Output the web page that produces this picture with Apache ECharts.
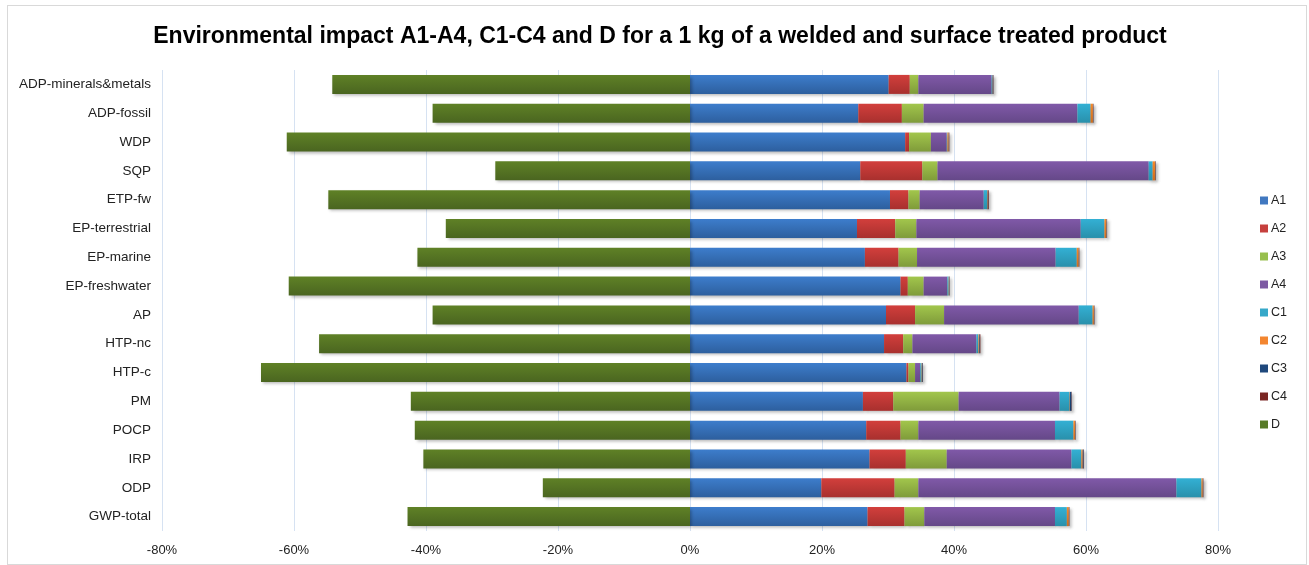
<!DOCTYPE html>
<html>
<head>
<meta charset="utf-8">
<script src="https://cdn.jsdelivr.net/npm/echarts@6/dist/echarts.min.js"></script>
<style>
html,body{margin:0;padding:0;background:#fff;}
#frame{position:absolute;left:7px;top:5px;width:1300px;height:560px;border:1px solid #d9d9d9;box-sizing:border-box;}
#chart{position:absolute;left:0;top:0;width:1309px;height:565px;}
</style>
</head>
<body>
<div id="frame"></div>
<div id="chart"></div>
<script>
const categories = ["ADP-minerals&metals","ADP-fossil","WDP","SQP","ETP-fw","EP-terrestrial","EP-marine","EP-freshwater","AP","HTP-nc","HTP-c","PM","POCP","IRP","ODP","GWP-total"];
const seriesNames = ["A1","A2","A3","A4","C1","C2","C3","C4","D"];
const A1 = [30.1,25.5,32.6,25.8,30.3,25.3,26.5,31.9,29.7,29.4,32.8,26.2,26.7,27.2,19.9,26.9];
const A2 = [3.2,6.6,0.6,9.4,2.8,5.8,5.1,1.1,4.4,2.9,0.3,4.6,5.2,5.5,11.1,5.6];
const A3 = [1.3,3.3,3.3,2.3,1.7,3.2,2.8,2.4,4.4,1.4,1.0,9.9,2.7,6.2,3.6,3.0];
const A4 = [11.1,23.3,2.4,32.0,9.7,24.9,21.0,3.6,20.4,9.7,0.8,15.3,20.7,18.9,39.1,19.8];
const C1 = [0.1,2.0,0.1,0.6,0.5,3.6,3.2,0.2,2.1,0.3,0.2,1.5,2.8,1.5,3.8,1.8];
const C2 = [0.05,0.35,0.2,0.4,0.1,0.3,0.3,0.05,0.2,0.1,0.05,0.05,0.25,0.2,0.2,0.3];
const C3 = [0.1,0.05,0.05,0.05,0.1,0.05,0.05,0.05,0.05,0.1,0.1,0.25,0.05,0.15,0.05,0.05];
const C4 = [0.05,0.05,0.05,0.05,0.1,0.05,0.05,0.05,0.05,0.1,0.05,0.05,0.05,0.05,0.05,0.05];
const D  = [-54.2,-39.0,-61.1,-29.5,-54.8,-37.0,-41.3,-60.8,-39.0,-56.2,-65.0,-42.3,-41.7,-40.4,-22.3,-42.8];
const xTicks = [-80,-60,-40,-20,0,20,40,60,80];

const values = [A1,A2,A3,A4,C1,C2,C3,C4,D];
const colorTop = ["#3d7dcc","#d23f3c","#a2c64c","#8059a8","#33b0d4","#f88a2a","#1e4b80","#7e2a28","#5f8126"];
const colorBot = ["#2d5f9e","#a8302e","#7f9b3a","#654888","#2990ab","#d06d1c","#163a66","#5e1f1e","#4a6520"];
const legendColors = ["#4178c0","#c6403d","#98bf4e","#7d5aa3","#36a8c9","#f38630","#1f487c","#7a2624","#577a27"];

const chart = echarts.init(document.getElementById('chart'));
const series = seriesNames.map((n,i)=>({
  name:n, type:'bar', stack:'total', barWidth:19,
  data: values[i],
  itemStyle:{
    color: new echarts.graphic.LinearGradient(0,0,0,1,[{offset:0,color:colorTop[i]},{offset:1,color:colorBot[i]}]),
    shadowColor:'rgba(0,0,0,0.28)', shadowBlur:3, shadowOffsetX:2, shadowOffsetY:2
  },
  emphasis:{disabled:true}
}));
chart.setOption({
  animation:false,
  color: legendColors,
  title:{text:'Environmental impact A1-A4, C1-C4 and D for a 1 kg of a welded and surface treated product',
    left:655, textAlign:'center', top:20,
    textStyle:{fontFamily:'Liberation Sans',fontWeight:'bold',fontSize:23,color:'#000'}},
  legend:{orient:'vertical', left:1255, top:189, itemWidth:8, itemHeight:8, itemGap:15, icon:'rect',
    data: seriesNames.map((n,i)=>({name:n, itemStyle:{color:legendColors[i]}})),
    textStyle:{fontFamily:'Liberation Sans',fontSize:12.5,color:'#222', padding:[0,0,0,-2]}},
  grid:{left:162, right:1309-1218, top:70, height:461, containLabel:false},
  xAxis:{type:'value', min:-80, max:80, interval:20,
    axisLabel:{formatter: v=> xTicks.includes(v)? v+'%':'', fontFamily:'Liberation Sans', fontSize:13, color:'#222', margin:13},
    axisLine:{show:false}, axisTick:{show:false},
    splitLine:{show:true, lineStyle:{color:'#d6e2f2', width:1}}},
  yAxis:{type:'category', inverse:true, data:categories,
    axisLabel:{fontFamily:'Liberation Sans', fontSize:13.5, color:'#222', margin:11},
    axisLine:{show:false}, axisTick:{show:false}},
  series: series
});
</script>
</body>
</html>
